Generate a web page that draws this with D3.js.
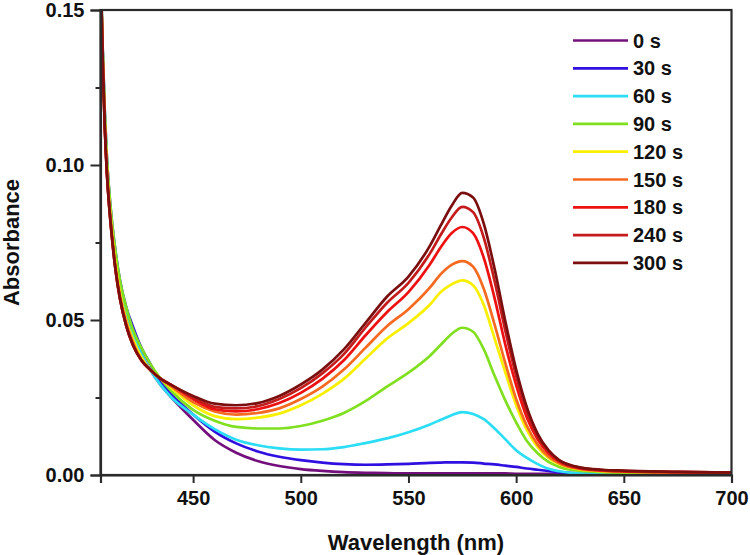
<!DOCTYPE html>
<html><head><meta charset="utf-8">
<script src="https://cdn.jsdelivr.net/npm/d3@7"></script>
<style>body{margin:0;background:#fff}svg{display:block}</style>
</head><body>
<svg id="c" width="750" height="555"></svg>
<script>
const wavelengths = [407,408,409,410,411,412,414,416,419,422,426,430,435,440,450,460,470,480,490,500,510,520,530,540,550,560,565,570,575,580,585,590,595,600,605,610,615,620,630,640,650,675,700];
const seriesNames = ["0 s","30 s","60 s","90 s","120 s","150 s","180 s","240 s","300 s"];
const seriesColors = ["#74107E","#3010E0","#2BDDF5","#80E020","#F8F000","#F56A20","#EE1111","#C41C1C","#7B0F0F"];
const s0   = [0.165,0.137,0.115,0.100,0.090,0.082,0.070,0.061,0.052,0.046,0.039,0.034,0.029,0.025,0.0178,0.0113,0.0072,0.0045,0.0029,0.0019,0.0013,0.0009,0.0007,0.0006,0.0005,0.0005,0.0005,0.0005,0.0005,0.0005,0.0005,0.0005,0.0005,0.0004,0.0004,0.0004,0.0004,0.0004,0.0004,0.0004,0.0004,0.0004,0.0004];
const s30  = [0.165,0.138,0.117,0.102,0.092,0.084,0.072,0.063,0.054,0.048,0.041,0.036,0.030,0.026,0.0195,0.0140,0.0102,0.0076,0.0059,0.0048,0.0040,0.0035,0.0033,0.0034,0.0036,0.0039,0.0040,0.0041,0.0041,0.0040,0.0037,0.0034,0.0030,0.0026,0.0021,0.0017,0.0013,0.0009,0.0005,0.0004,0.0003,0.0003,0.0003];
const s60  = [0.165,0.137,0.116,0.101,0.091,0.083,0.071,0.062,0.053,0.046,0.039,0.034,0.029,0.025,0.0195,0.0148,0.0114,0.0096,0.0086,0.0082,0.0083,0.0090,0.0103,0.0118,0.0138,0.0163,0.0178,0.0193,0.0203,0.0197,0.0180,0.0150,0.0115,0.0080,0.0055,0.0035,0.0020,0.0012,0.0005,0.0004,0.0004,0.0004,0.0004];
const s90  = [0.165,0.138,0.117,0.102,0.092,0.084,0.072,0.063,0.054,0.047,0.041,0.036,0.031,0.027,0.021,0.0175,0.0155,0.0150,0.0150,0.0158,0.0175,0.0200,0.0238,0.0285,0.0330,0.0385,0.0420,0.0455,0.0475,0.0462,0.0405,0.0320,0.0240,0.0170,0.0110,0.0070,0.0042,0.0026,0.0013,0.0009,0.0007,0.0005,0.0004];
const s120 = [0.165,0.136,0.114,0.099,0.089,0.081,0.068,0.059,0.050,0.044,0.038,0.034,0.031,0.028,0.0225,0.019,0.018,0.0185,0.0198,0.0225,0.0262,0.0310,0.0375,0.0440,0.0490,0.0550,0.0590,0.0615,0.0628,0.0612,0.0548,0.0440,0.0330,0.0225,0.0145,0.0090,0.0055,0.0035,0.0017,0.0012,0.0010,0.0007,0.0006];
const s150 = [0.165,0.135,0.113,0.098,0.088,0.080,0.067,0.058,0.049,0.043,0.037,0.034,0.031,0.0285,0.0235,0.0205,0.0195,0.0200,0.0215,0.0245,0.0285,0.0340,0.0410,0.0480,0.0535,0.0605,0.0648,0.0678,0.0690,0.0672,0.0600,0.0485,0.0360,0.0245,0.0158,0.0098,0.0060,0.0038,0.0019,0.0013,0.0011,0.0008,0.0007];
const s180 = [0.165,0.134,0.112,0.097,0.087,0.079,0.066,0.057,0.048,0.042,0.037,0.034,0.031,0.029,0.0245,0.0212,0.0205,0.0212,0.0232,0.0265,0.0310,0.0370,0.0450,0.0525,0.0590,0.0680,0.0735,0.0780,0.0800,0.0780,0.0700,0.0570,0.0420,0.0290,0.0185,0.0115,0.0070,0.0043,0.0021,0.0015,0.0012,0.0009,0.0008];
const s240 = [0.165,0.134,0.112,0.097,0.087,0.079,0.066,0.057,0.048,0.042,0.037,0.034,0.031,0.029,0.025,0.0220,0.0215,0.0222,0.0245,0.0280,0.0328,0.0390,0.0475,0.0555,0.0620,0.0715,0.0775,0.0830,0.0865,0.0848,0.0765,0.0625,0.0465,0.0320,0.0205,0.0125,0.0076,0.0046,0.0023,0.0016,0.0013,0.0010,0.0008];
const s300 = [0.165,0.134,0.112,0.097,0.087,0.079,0.066,0.057,0.048,0.042,0.037,0.034,0.031,0.029,0.0255,0.0230,0.0225,0.0232,0.0255,0.0292,0.0340,0.0405,0.0490,0.0575,0.0640,0.0740,0.0805,0.0868,0.0910,0.0895,0.0810,0.0665,0.0495,0.0340,0.0218,0.0133,0.0080,0.0048,0.0024,0.0017,0.0014,0.0010,0.0008];
const seriesValues = [s0,s30,s60,s90,s120,s150,s180,s240,s300];
const xTicks = [450,500,550,600,650,700];
const yTicks = [0,0.05,0.10,0.15];
const yMinorTicks = [0.025,0.075,0.125];

const svg = d3.select("#c");
const L=100.5, R=731.5, T=10, B=475;
const x = d3.scaleLinear().domain([407,700]).range([L,R]);
const y = d3.scaleLinear().domain([0,0.15]).range([B,T]);
const font = "'Liberation Sans', Arial, sans-serif";

svg.append("clipPath").attr("id","clip").append("rect").attr("x",L).attr("y",T).attr("width",R-L).attr("height",B-T);

const line = d3.line().x((d,i)=>x(wavelengths[i])).y(d=>y(d)).curve(d3.curveMonotoneX);
const g = svg.append("g").attr("clip-path","url(#clip)");
seriesValues.forEach((vals,k)=>{
  g.append("path").attr("d",line(vals)).attr("fill","none").attr("stroke",seriesColors[k]).attr("stroke-width",2.7).attr("stroke-linejoin","round");
});

// frame
svg.append("rect").attr("x",L).attr("y",T).attr("width",R-L).attr("height",B-T).attr("fill","none").attr("stroke","#2a2a2a").attr("stroke-width",2.2);

svg.append("g").attr("transform",`translate(0,${B})`)
  .call(d3.axisBottom(x).tickValues(xTicks).tickSize(8).tickPadding(8).tickFormat(d3.format("d")));
svg.append("g").attr("transform",`translate(${L},0)`)
  .call(d3.axisLeft(y).tickValues(yTicks).tickSize(10).tickPadding(6).tickFormat(d3.format(".2f")));
svg.append("g").attr("transform",`translate(${L},0)`)
  .call(d3.axisLeft(y).tickValues(yMinorTicks).tickSize(5).tickFormat(""))
  .select(".domain").remove();
svg.selectAll(".domain").attr("stroke","#2a2a2a").attr("stroke-width",2.2);
svg.selectAll(".tick line").attr("stroke","#2a2a2a").attr("stroke-width",2);
svg.selectAll(".tick text").attr("font-family",font).attr("font-weight","bold").attr("font-size",20).attr("fill","#111");

svg.append("text").attr("x",(L+R)/2).attr("y",550).attr("text-anchor","middle")
  .attr("font-family",font).attr("font-weight","bold").attr("font-size",22).attr("fill","#111").text("Wavelength (nm)");
svg.append("text").attr("transform",`translate(19,${(T+B)/2}) rotate(-90)`).attr("text-anchor","middle")
  .attr("font-family",font).attr("font-weight","bold").attr("font-size",22).attr("fill","#111").text("Absorbance");

const leg = svg.append("g");
seriesNames.forEach((n,k)=>{
  const yy = 40.5 + k*27.8;
  leg.append("line").attr("x1",573).attr("x2",628).attr("y1",yy).attr("y2",yy).attr("stroke",seriesColors[k]).attr("stroke-width",2.7);
  leg.append("text").attr("x",633).attr("y",yy+7).attr("font-family",font).attr("font-weight","bold").attr("font-size",20).attr("fill","#111").text(n);
});
</script>
</body></html>
